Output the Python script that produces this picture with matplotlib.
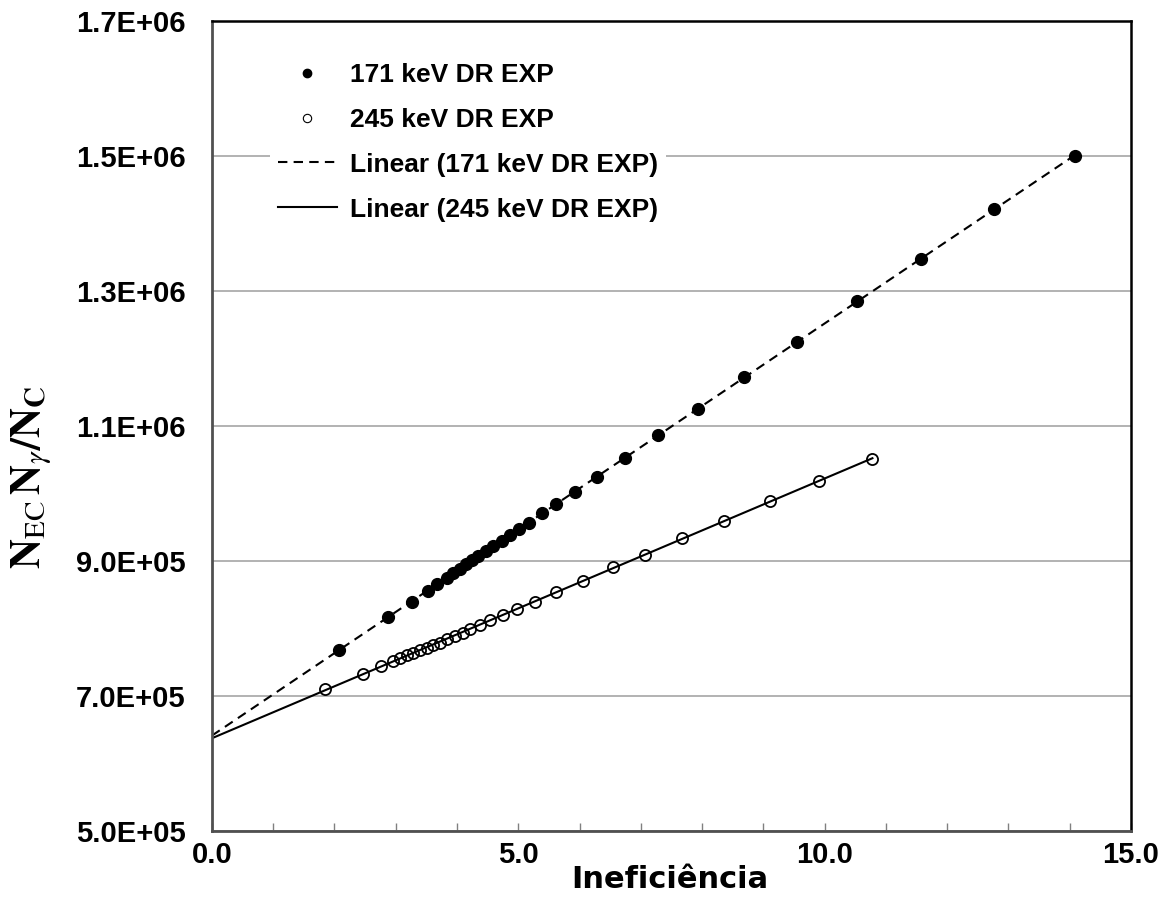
import numpy as np
import matplotlib
matplotlib.use("Agg")
import matplotlib.pyplot as plt
from matplotlib.lines import Line2D
from matplotlib.ticker import MultipleLocator, FixedLocator, FuncFormatter

# --- data ---
ineff_171 = [2.078, 2.878, 3.259, 3.520, 3.667, 3.830, 3.939, 4.047, 4.145, 4.238,
             4.347, 4.472, 4.592, 4.728, 4.864, 5.016, 5.174, 5.391, 5.615, 5.925,
             6.289, 6.741, 7.286, 7.94, 8.68, 9.55, 10.53, 11.58, 12.76, 14.08]
ratio_171 = [7.681e5, 8.17e5, 8.393e5, 8.551e5, 8.654e5, 8.748e5, 8.817e5, 8.886e5, 8.951e5, 9.010e5,
             9.074e5, 9.143e5, 9.222e5, 9.296e5, 9.380e5, 9.479e5, 9.568e5, 9.711e5, 9.849e5, 1.0022e6,
             1.0249e6, 1.0531e6, 1.0867e6, 1.125e6, 1.173e6, 1.224e6, 1.285e6, 1.348e6, 1.421e6, 1.500e6]

ineff_245 = [1.844, 2.459, 2.758, 2.949, 3.068, 3.188, 3.286, 3.395, 3.504, 3.612,
             3.721, 3.841, 3.966, 4.102, 4.211, 4.37, 4.537, 4.744, 4.983, 5.275,
             5.62, 6.05, 6.54, 7.07, 7.67, 8.35, 9.11, 9.91, 10.78]
ratio_245 = [7.109e5, 7.321e5, 7.444e5, 7.514e5, 7.558e5, 7.602e5, 7.642e5, 7.681e5, 7.716e5, 7.756e5,
             7.79e5, 7.84e5, 7.889e5, 7.938e5, 7.988e5, 8.052e5, 8.126e5, 8.195e5, 8.284e5, 8.398e5,
             8.541e5, 8.709e5, 8.91e5, 9.09e5, 9.34e5, 9.587e5, 9.89e5, 1.019e6, 1.051e6]

labels = ["171 keV DR EXP", "245 keV DR EXP",
          "Linear (171 keV DR EXP)", "Linear (245 keV DR EXP)"]
y_ticks = [5e5, 7e5, 9e5, 1.1e6, 1.3e6, 1.5e6, 1.7e6]

plt.rcParams['font.family'] = ['Liberation Sans', 'DejaVu Sans']
plt.rcParams['mathtext.fontset'] = 'stix'

fig = plt.figure(figsize=(11.62, 9.19), dpi=100)
ax = fig.add_axes([0.1824, 0.0958, 0.7909, 0.8813])

dash = (0, (4.5, 3))

# linear trendlines (Excel style, forecast back to x = 0)
for xs, ys, ls in [(ineff_171, ratio_171, dash), (ineff_245, ratio_245, '-')]:
    coef = np.polyfit(xs, ys, 1)
    xl = np.array([0.0, max(xs)])
    ax.plot(xl, np.polyval(coef, xl), color='k', ls=ls, lw=1.5, zorder=2)

ax.plot(ineff_171, ratio_171, ls='none', marker='o', ms=8.5, color='k', zorder=3)
ax.plot(ineff_245, ratio_245, ls='none', marker='o', ms=8, mfc='none', mec='k',
        mew=1.3, zorder=3)

ax.set_xlim(0, 15)
ax.set_ylim(5e5, 1.7e6)
ax.xaxis.set_major_locator(MultipleLocator(5))
ax.xaxis.set_minor_locator(MultipleLocator(1))
ax.yaxis.set_major_locator(FixedLocator(y_ticks))
ax.xaxis.set_major_formatter(FuncFormatter(lambda v, p: f"{v:.1f}"))
ax.yaxis.set_major_formatter(FuncFormatter(lambda v, p: f"{v:.1E}"))

ax.tick_params(axis='x', which='both', direction='in', length=6, width=1,
               color='#808080', pad=7)
ax.tick_params(axis='y', length=0, pad=19)
for t in ax.get_xticklabels():
    t.set_fontweight('bold')
    t.set_fontsize(21)
for t in ax.get_yticklabels():
    t.set_fontweight('bold')
    t.set_fontsize(21)

ax.grid(axis='y', color='#a6a6a6', lw=1.2)
ax.set_axisbelow(True)

for side in ['left', 'bottom']:
    ax.spines[side].set_color('#505050')
    ax.spines[side].set_linewidth(2)
for side in ['top', 'right']:
    ax.spines[side].set_color('black')
    ax.spines[side].set_linewidth(1.8)

ax.set_xlabel("Ineficiência", family='DejaVu Sans', fontweight='bold', fontsize=22)
ax.xaxis.set_label_coords(0.498, -0.042)
ax.set_ylabel(r"$\mathbf{N}_{\mathrm{EC}}\,\mathbf{N}_{\gamma}\mathbf{/N}_{\mathbf{C}}$",
              fontsize=30)
ax.yaxis.set_label_coords(-0.172, 0.437)

handles = [
    Line2D([], [], ls='none', marker='o', color='k', ms=6),
    Line2D([], [], ls='none', marker='o', mfc='white', mec='k', mew=0.8, ms=6),
    Line2D([], [], color='k', ls=dash, lw=1.5),
    Line2D([], [], color='k', lw=1.5),
]
leg = ax.legend(handles, labels, loc='upper left', bbox_to_anchor=(0.063, 0.958),
                borderaxespad=0, frameon=True, facecolor='white', edgecolor='none',
                framealpha=1, fancybox=False, handlelength=2.23, handletextpad=0.5,
                labelspacing=0.79, borderpad=0.3,
                prop={'weight': 'bold', 'size': 19})

fig.savefig("out.png", dpi=100, facecolor='white')
